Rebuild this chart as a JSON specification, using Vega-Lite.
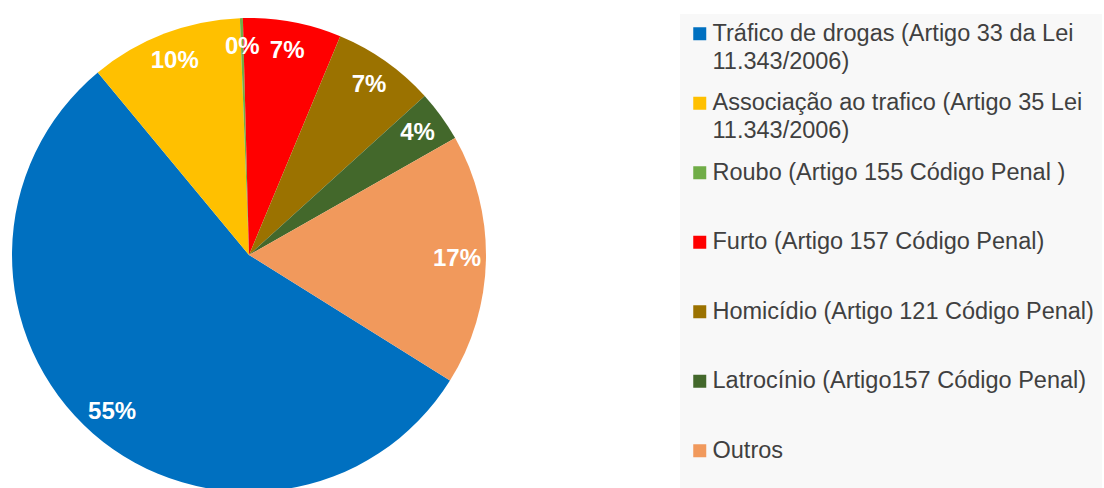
{
  "$schema": "https://vega.github.io/schema/vega-lite/v6.json",
  "width": 474,
  "height": 474,
  "padding": {"left": 12, "top": 14, "right": 0, "bottom": 0},
  "autosize": {"type": "pad"},
  "background": "white",
  "config": {"view": {"stroke": null}, "font": "Liberation Sans"},
  "data": {
    "values": [
      {"n": 1, "crime": "Tráfico de drogas (Artigo 33 da Lei 11.343/2006)", "value": 55.1, "pct": "55%"},
      {"n": 2, "crime": "Associação ao trafico (Artigo 35 Lei 11.343/2006)", "value": 10.4, "pct": "10%"},
      {"n": 3, "crime": "Roubo (Artigo 155 Código Penal )", "value": 0.2, "pct": "0%"},
      {"n": 4, "crime": "Furto (Artigo 157 Código Penal)", "value": 6.7, "pct": "7%"},
      {"n": 5, "crime": "Homicídio (Artigo 121 Código Penal)", "value": 7.0, "pct": "7%"},
      {"n": 6, "crime": "Latrocínio (Artigo157 Código Penal)", "value": 3.5, "pct": "4%"},
      {"n": 7, "crime": "Outros", "value": 17.1, "pct": "17%"}
    ]
  },
  "encoding": {
    "theta": {"field": "value", "type": "quantitative", "stack": true, "scale": {"range": [2.1293, 8.4125]}},
    "order": {"field": "n", "type": "quantitative"}
  },
  "layer": [
    {
      "mark": {"type": "arc"},
      "encoding": {
        "color": {
          "field": "crime",
          "type": "nominal",
          "scale": {
            "domain": [
              "Tráfico de drogas (Artigo 33 da Lei 11.343/2006)",
              "Associação ao trafico (Artigo 35 Lei 11.343/2006)",
              "Roubo (Artigo 155 Código Penal )",
              "Furto (Artigo 157 Código Penal)",
              "Homicídio (Artigo 121 Código Penal)",
              "Latrocínio (Artigo157 Código Penal)",
              "Outros"
            ],
            "range": ["#0070C0", "#FFC000", "#70AD47", "#FF0000", "#9B7200", "#43682B", "#F1995C"]
          },
          "legend": {
            "orient": "none",
            "legendX": 668,
            "legendY": -4,
            "title": null,
            "symbolType": "square",
            "symbolSize": 169,
            "symbolStrokeWidth": 0,
            "symbolOffset": 0,
            "labelFont": "Liberation Sans",
            "labelFontSize": 23.5,
            "labelColor": "#404040",
            "labelLimit": 600,
            "labelOffset": 1,
            "rowPadding": 16.5,
            "padding": 8,
            "fillColor": "#f8f8f8",
            "labelExpr": "indexof(datum.label, ' 11.343') >= 0 ? split(replace(datum.label, ' 11.343', '|11.343'), '|') : [datum.label, '']",
            "encode": {"labels": {"update": {"lineHeight": {"value": 28}}}}
          }
        }
      }
    },
    {
      "mark": {"type": "text", "radius": 208, "font": "Liberation Sans", "fontSize": 24, "fontWeight": "bold", "fill": "white"},
      "encoding": {"text": {"field": "pct", "type": "nominal"}}
    }
  ]
}
